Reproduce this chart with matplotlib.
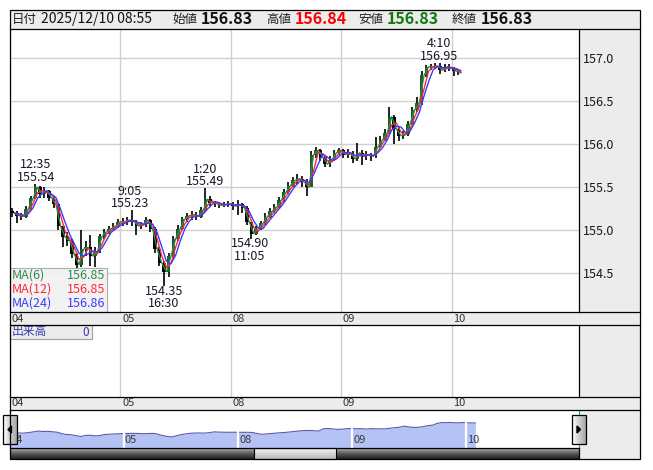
import numpy as np
import pandas as pd
import matplotlib
matplotlib.use("Agg")
import matplotlib.pyplot as plt
from matplotlib.patches import Rectangle, Polygon
from matplotlib.colors import LinearSegmentedColormap
from matplotlib.transforms import blended_transform_factory

plt.rcParams['font.family'] = ['Noto Sans CJK JP', 'DejaVu Sans']

W, H = 653, 470

# trading days, each starting 07:00 JST
day_labels = ["04", "05", "08", "09", "10"]

# hourly bars (bar h covers hour h..h+1 of the session)
open_first = 155.22
close = [
    # 04
    155.20, 155.17, 155.16, 155.25, 155.37, 155.50, 155.42, 155.46, 155.38, 155.30,
    155.05, 154.92, 154.88, 154.72, 154.60, 154.78, 154.80, 154.70, 154.75, 154.93,
    154.98, 155.02, 155.05, 155.10,
    # 05
    155.10, 155.12, 155.10, 155.05, 155.07, 155.12, 155.02, 154.78, 154.62, 154.52,
    154.70, 154.90, 155.02, 155.13, 155.17, 155.18, 155.16, 155.23, 155.36, 155.32,
    155.31, 155.29, 155.30, 155.31,
    # 08
    155.28, 155.30, 155.26, 155.10, 154.96, 155.02, 155.08, 155.16, 155.22, 155.27,
    155.35, 155.44, 155.52, 155.58, 155.60, 155.56, 155.50, 155.88, 155.93, 155.85,
    155.77, 155.82, 155.90, 155.93,
    # 09
    155.88, 155.90, 155.83, 155.90, 155.86, 155.88, 155.86, 155.97, 156.05, 156.13,
    156.32, 156.18, 156.10, 156.12, 156.24, 156.40, 156.48, 156.80, 156.90, 156.90,
    156.91, 156.86, 156.90, 156.89,
    # 10
    156.85, 156.83,
]
high = [
    155.26, 155.22, 155.20, 155.28, 155.40, 155.54, 155.52, 155.50, 155.47, 155.40,
    155.30, 155.05, 154.98, 154.90, 154.74, 155.00, 154.88, 154.95, 154.80, 154.96,
    155.02, 155.05, 155.08, 155.13,
    155.14, 155.16, 155.23, 155.12, 155.10, 155.15, 155.13, 155.04, 154.80, 154.64,
    154.74, 154.93, 155.06, 155.16, 155.20, 155.22, 155.21, 155.27, 155.49, 155.40,
    155.34, 155.33, 155.33, 155.34,
    155.33, 155.35, 155.32, 155.28, 155.10, 155.05, 155.11, 155.20, 155.26, 155.31,
    155.39, 155.48, 155.56, 155.62, 155.65, 155.63, 155.60, 155.92, 155.97, 155.95,
    155.86, 155.86, 155.93, 155.96,
    155.94, 155.94, 155.92, 156.01, 155.93, 155.92, 155.90, 156.08, 156.10, 156.18,
    156.43, 156.34, 156.20, 156.16, 156.27, 156.43, 156.55, 156.85, 156.92, 156.93,
    156.94, 156.95, 156.93, 156.93,
    156.90, 156.88,
]
low = [
    155.15, 155.08, 155.12, 155.14, 155.24, 155.36, 155.38, 155.38, 155.34, 155.26,
    155.00, 154.80, 154.82, 154.68, 154.55, 154.57, 154.70, 154.58, 154.57, 154.74,
    154.90, 154.96, 155.00, 155.03,
    155.05, 155.06, 155.05, 154.95, 155.02, 155.04, 154.98, 154.74, 154.58, 154.35,
    154.46, 154.68, 154.88, 155.00, 155.10, 155.12, 155.12, 155.14, 155.22, 155.28,
    155.27, 155.26, 155.27, 155.27,
    155.24, 155.18, 155.20, 155.06, 154.90, 154.94, 155.00, 155.06, 155.14, 155.20,
    155.26, 155.33, 155.42, 155.50, 155.54, 155.50, 155.40, 155.50, 155.84, 155.80,
    155.73, 155.74, 155.80, 155.88,
    155.84, 155.84, 155.78, 155.80, 155.76, 155.82, 155.80, 155.84, 155.96, 156.04,
    156.12, 156.00, 156.04, 156.06, 156.10, 156.22, 156.38, 156.46, 156.78, 156.86,
    156.87, 156.82, 156.84, 156.85,
    156.79, 156.80,
]

# labelled highs / lows: (day, time, price, kind)
extremes = [
    ("04", "12:35", 155.54, "high"),
    ("05", "9:05", 155.23, "high"),
    ("05", "16:30", 154.35, "low"),
    ("05", "1:20", 155.49, "high"),
    ("08", "11:05", 154.90, "low"),
    ("09", "4:10", 156.95, "high"),
]

ma_names = ["MA(6)", "MA(12)", "MA(24)"]
ma_values = ["156.85", "156.85", "156.86"]
ma_colors = ["#2f8a55", "#ff2a3a", "#3b3bff"]
ma_windows = [1, 2, 3]  # hourly stand-in for 6/12/24 five-minute bars

header_date = "2025/12/10 08:55"
header_labels = ["始値", "高値", "安値", "終値"]
header_values = ["156.83", "156.84", "156.83", "156.83"]
header_colors = ["#111111", "#ff0000", "#0f7a0f", "#111111"]

price_ticks = [154.5, 155.0, 155.5, 156.0, 156.5, 157.0]


def session_hours(day, hhmm):
    h, m = map(int, hhmm.split(":"))
    return day_labels.index(day) * 24 + (h - 7) % 24 + m / 60


def box(ax, x0, y0, x1, y1, **kw):
    ax.add_patch(Rectangle((x0, y0), x1 - x0, y1 - y0, **kw))


def px_axes(x0, y0, x1, y1):
    a = fig.add_axes([x0 / W, 1 - y1 / H, (x1 - x0) / W, (y1 - y0) / H])
    a.set_facecolor("none")
    return a


fig = plt.figure(figsize=(W / 100, H / 100), dpi=100)
PANEL = "#ececec"
GRID = "#d0d0d0"

# ---- background panels ----
bg = fig.add_axes([0, 0, 1, 1])
bg.set_xlim(0, W); bg.set_ylim(H, 0); bg.axis("off")
box(bg, 10, 10, 640, 29, fc=PANEL, lw=0)
box(bg, 579, 29, 640, 459, fc=PANEL, lw=0)
box(bg, 10, 312, 640, 325, fc=PANEL, lw=0)
box(bg, 10, 397, 640, 410, fc=PANEL, lw=0)

day_starts = np.arange(len(day_labels)) * 24
o = np.array([open_first] + close[:-1])
c = np.array(close)
x = np.arange(len(c)) + 0.5

# ---- main price chart ----
ax = px_axes(10, 29, 579, 312)
ax.set_xlim(0, 123.7)
ax.set_ylim(154.05, 157.34)
ax.set_xticks(day_starts)
ax.set_yticks(price_ticks)
ax.set_yticklabels([f"{p:.1f}" for p in price_ticks])
ax.yaxis.tick_right()
ax.tick_params(axis="y", length=0, pad=3, labelsize=9, labelcolor="#1a1a1a")
ax.tick_params(axis="x", length=0, labelbottom=False)
ax.grid(True, color=GRID, lw=1)
ax.set_axisbelow(True)
for s in ax.spines.values():
    s.set_visible(False)

ax.vlines(x, low, high, color="black", lw=1.2, zorder=2)
up = c >= o
ax.bar(x[up], (c - o)[up], bottom=o[up], width=0.75, color="#1d5f1d", lw=0, zorder=2)
ax.bar(x[~up], (c - o)[~up], bottom=o[~up], width=0.75, color="black", lw=0, zorder=2)

s = pd.Series(close)
for w, col in zip(ma_windows, ma_colors):
    ax.plot(x + 0.5, s.rolling(w, min_periods=1).mean(), color=col, lw=1.0, zorder=3)

for day, hhmm, price, kind in extremes:
    t = session_hours(day, hhmm)
    if kind == "high":
        ax.annotate(f"{hhmm}\n{price:.2f}", xy=(t, price), xytext=(0, 0),
                    textcoords="offset points", ha="center", va="bottom",
                    fontsize=9, linespacing=0.95, color="#1e1428", zorder=4)
    else:
        ax.annotate(f"{price:.2f}\n{hhmm}", xy=(t, price), xytext=(0, 1),
                    textcoords="offset points", ha="center", va="top",
                    fontsize=9, linespacing=0.95, color="#1e1428", zorder=4)

# ---- volume panel (empty) ----
axv = px_axes(10, 325, 579, 397)
axv.set_xlim(ax.get_xlim()); axv.set_ylim(0, 1)
axv.set_xticks(day_starts); axv.set_yticks([])
axv.tick_params(length=0, labelbottom=False)
axv.grid(True, axis="x", color=GRID, lw=1)
for sp in axv.spines.values():
    sp.set_visible(False)

# ---- navigator ----
axn = px_axes(10, 410, 579, 448)
axn.set_xlim(0.05, 119.8)
axn.set_ylim(152.68, 159.0)
axn.axis("off")
xn = np.arange(len(c) + 1)
yn = np.concatenate([[open_first], c])
axn.fill_between(xn, yn, 152.68, color="#b5c2f6", lw=0)
axn.plot(xn, yn, color="#5b5bab", lw=0.8)
for d in day_starts[1:]:
    axn.axvline(d, color="white", lw=1.6)

# ---- foreground: frames, header, legends ----
fg = fig.add_axes([0, 0, 1, 1])
fg.set_facecolor("none"); fg.axis("off")
fg.set_autoscale_on(False)
fg.set_xlim(0, W); fg.set_ylim(H, 0)

# header
fg.text(12, 19.5, "日付", fontsize=9, va="center", color="#202020")
fg.text(41, 19.5, header_date, fontsize=10, va="center", color="#111111")
for lx, lab, val, col in zip([172, 266, 358, 452], header_labels, header_values, header_colors):
    fg.text(lx, 19.5, lab, fontsize=9, va="center", color="#202020")
    fg.text(lx + 29, 19.5, val, fontsize=11.5, fontweight="bold", va="center", color=col)

# MA legend
box(fg, 10, 268, 107, 312, fc="#f1f1f1", ec="#a8a8a8", lw=0.8, alpha=0.92)
for i, (nm, val, col) in enumerate(zip(ma_names, ma_values, ma_colors)):
    y = 275.5 + i * 14
    fg.text(12, y, nm, fontsize=9, va="center", color=col)
    fg.text(105, y, val, fontsize=9, va="center", ha="right", color=col)

# date strips
tr_main = blended_transform_factory(ax.transData, fg.transData)
tr_nav = blended_transform_factory(axn.transData, fg.transData)
for d, lab in zip(day_starts, day_labels):
    for yy in (318.5, 403.5):
        fg.text(d + 0.35, yy, lab, fontsize=8, va="center", color="#333333",
                transform=tr_main)
    fg.text(d + 0.25, 440, lab, fontsize=8, va="center", color="#3a3a3a",
            transform=tr_nav)

# volume legend
box(fg, 10, 325, 92, 339, fc=PANEL, ec="#a0a0a0", lw=0.8)
fg.text(12, 332, "出来高", fontsize=8.5, va="center", color="#3a3ab0")
fg.text(89, 332, "0", fontsize=8.5, va="center", ha="right", color="#3a3ab0")

# scrollbar
track = LinearSegmentedColormap.from_list("track", ["#b0b0b0", "#5a5a5a", "#202020"])
grad = np.linspace(0, 1, 32).reshape(-1, 1)
fg.imshow(grad, extent=(10, 579, 459, 448), cmap=track, aspect="auto", zorder=2)
thumb = LinearSegmentedColormap.from_list("thumb", ["#f6f6f6", "#d8d8d8", "#b8b8b8"])
fg.imshow(grad, extent=(254, 336, 459, 448), cmap=thumb, aspect="auto", zorder=3)
box(fg, 254, 448, 336, 459, fc="none", ec="black", lw=0.8, zorder=4)

# navigator edges and buttons
fg.plot([10, 10], [410, 448], color="#1f9fd9", lw=0.8, zorder=3)
fg.plot([579, 579], [410, 448], color="#1f9fd9", lw=0.8, zorder=3)
btn = LinearSegmentedColormap.from_list("btn", ["#ffffff", "#d0d0d0", "#a8a8a8"])
hgrad = np.linspace(0, 1, 16).reshape(1, -1)
for bx0 in (3, 572):
    fg.imshow(hgrad, extent=(bx0, bx0 + 14, 444, 415), cmap=btn, aspect="auto", zorder=5)
    box(fg, bx0, 415, bx0 + 14, 444, fc="none", ec="black", lw=0.9, zorder=6)
fg.add_patch(Polygon([(8, 429.5), (11.5, 426), (11.5, 433)], color="black", zorder=7))
fg.add_patch(Polygon([(580.5, 429.5), (577, 426), (577, 433)], color="black", zorder=7))

# frame lines
K = dict(color="black", lw=0.9, zorder=8)
box(fg, 10, 10, 640, 459, fc="none", ec="black", lw=0.9, zorder=8)
for yy in (29, 312, 325, 397, 410):
    fg.plot([10, 640], [yy, yy], **K)
fg.plot([10, 579], [448, 448], **K)
fg.plot([579, 579], [29, 312], **K)
fg.plot([579, 579], [325, 397], **K)
fg.plot([579, 579], [448, 459], **K)

fig.savefig("out.png", dpi=100)
